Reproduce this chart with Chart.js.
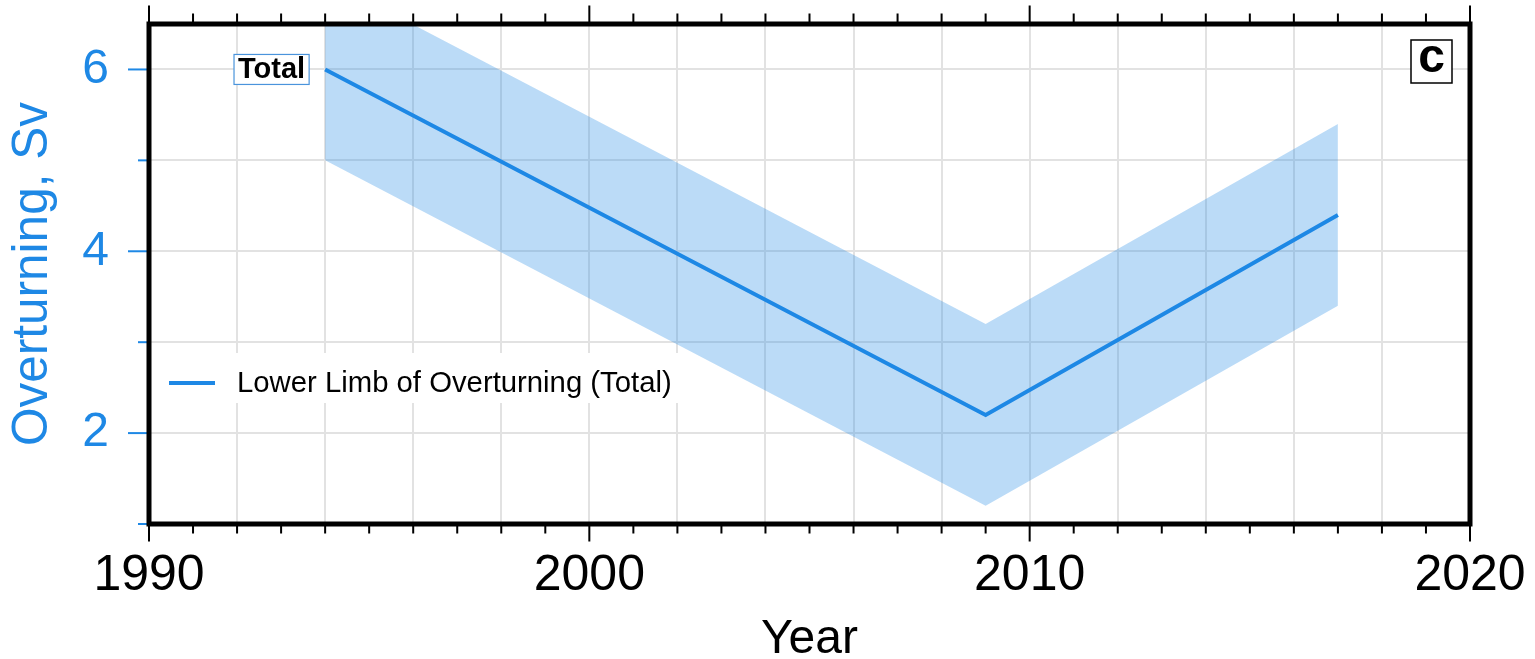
<!DOCTYPE html>
<html><head><meta charset="utf-8">
<script src="https://cdn.jsdelivr.net/npm/chart.js@4/dist/chart.umd.min.js"></script>
<style>html,body{margin:0;padding:0;background:#fff;overflow:hidden}</style>
</head><body>
<canvas id="c" width="1535" height="659" style="display:block;width:1535px;height:659px"></canvas>
<script>
// ---- data ----
const years = [1994, 2009, 2017];
const totalSv = [6.0, 2.2, 4.4];
const upperSv = [7.0, 3.2, 5.4];
const lowerSv = [5.0, 1.2, 3.4];
const xLabelYears = [1990, 2000, 2010, 2020];
const yLabelValues = [2, 4, 6];
const seriesName = 'Lower Limb of Overturning (Total)';
const annotationText = 'Total';
const panelLetter = 'c';
const xTitle = 'Year';
const yTitle = 'Overturning, Sv';

const BLUE = '#1e88e5';
const FONT = '"Liberation Sans", Arial, Helvetica, sans-serif';
const GRID = '#e2e2e2';

const pts = arr => years.map((y, i) => ({x: y, y: arr[i]}));

const decor = {
  id: 'decor',
  afterDatasetsDraw(chart) {
    const ctx = chart.ctx, a = chart.chartArea;
    const xs = chart.scales.x, ys = chart.scales.y;
    ctx.save();
    // legend box
    ctx.fillStyle = '#fff';
    ctx.fillRect(a.left, a.top + 329, 692 - a.left, 50);
    ctx.strokeStyle = BLUE; ctx.lineWidth = 4;
    ctx.beginPath(); ctx.moveTo(a.left + 20, a.top + 359); ctx.lineTo(a.left + 66, a.top + 359); ctx.stroke();
    ctx.fillStyle = '#000';
    ctx.font = '29.3px ' + FONT; ctx.textBaseline = 'middle'; ctx.textAlign = 'left';
    ctx.fillText(chart.data.datasets[2].label, a.left + 88, a.top + 360);
    // "Total" annotation
    const px = xs.getPixelForValue(years[0]), py = ys.getPixelForValue(totalSv[0]);
    ctx.font = 'bold 29px ' + FONT;
    const tw = ctx.measureText(annotationText).width;
    const bw = tw + 8, bh = 30, bx = px - 16 - bw, by = py - bh / 2;
    ctx.fillStyle = '#fff'; ctx.fillRect(bx, by, bw, bh);
    ctx.strokeStyle = '#4a94dc'; ctx.lineWidth = 1.2; ctx.strokeRect(bx, by, bw, bh);
    ctx.fillStyle = '#000'; ctx.textAlign = 'center';
    ctx.fillText(annotationText, bx + bw / 2, py + 1);
    // panel letter
    const cw = 41, ch = 43, cx = a.right - 18 - cw, cy = a.top + 16;
    ctx.fillStyle = '#fff'; ctx.fillRect(cx, cy, cw, ch);
    ctx.strokeStyle = '#000'; ctx.lineWidth = 1.5; ctx.strokeRect(cx, cy, cw, ch);
    ctx.fillStyle = '#000'; ctx.font = 'bold 48px ' + FONT;
    ctx.fillText(panelLetter, cx + cw / 2, cy + ch / 2 - 3);
    ctx.restore();
  },
  afterDraw(chart) {
    const ctx = chart.ctx, a = chart.chartArea;
    const xs = chart.scales.x, ys = chart.scales.y;
    ctx.save();
    // y ticks (blue)
    ctx.strokeStyle = BLUE; ctx.lineWidth = 2;
    for (let v = 1; v <= 6; v++) {
      const p = ys.getPixelForValue(v);
      const len = yLabelValues.includes(v) ? 21 : 11;
      ctx.beginPath(); ctx.moveTo(a.left - len, p); ctx.lineTo(a.left, p); ctx.stroke();
    }
    // x ticks top & bottom
    ctx.strokeStyle = '#000'; ctx.lineWidth = 2;
    for (let yr = xs.min; yr <= xs.max; yr++) {
      const p = xs.getPixelForValue(yr);
      const major = xLabelYears.includes(yr);
      ctx.beginPath();
      ctx.moveTo(p, a.top); ctx.lineTo(p, a.top - 2.5 - (major ? 16 : 8));
      ctx.moveTo(p, a.bottom); ctx.lineTo(p, a.bottom + 2.5 + (major ? 15 : 7));
      ctx.stroke();
    }
    // frame
    ctx.strokeStyle = '#000'; ctx.lineWidth = 5;
    ctx.strokeRect(a.left, a.top, a.right - a.left, a.bottom - a.top);
    ctx.restore();
  }
};

new Chart(document.getElementById('c'), {
  type: 'line',
  data: {
    datasets: [
      {label: 'upper', data: pts(upperSv), borderWidth: 0, pointRadius: 0,
       backgroundColor: 'rgba(30,136,229,0.3)', fill: '+1', tension: 0},
      {label: 'lower', data: pts(lowerSv), borderWidth: 0, pointRadius: 0,
       backgroundColor: 'rgba(30,136,229,0.3)', fill: false, tension: 0},
      {label: seriesName, data: pts(totalSv), borderColor: BLUE, borderWidth: 4,
       pointRadius: 0, fill: false, tension: 0}
    ]
  },
  options: {
    responsive: false, animation: false, devicePixelRatio: 1,
    layout: {padding: {top: 24, right: 65, left: 0, bottom: 0}},
    plugins: {legend: {display: false}, tooltip: {enabled: false}},
    scales: {
      x: {
        type: 'linear', min: 1990, max: 2020,
        afterFit: s => { s.height = 135; s.paddingLeft = 0; s.paddingRight = 0; },
        border: {display: false},
        grid: {drawTicks: false, lineWidth: 2,
               color: c => (c.tick && c.tick.value % 2 === 0) ? GRID : 'rgba(0,0,0,0)'},
        ticks: {stepSize: 1, autoSkip: false, maxRotation: 0, padding: 22,
                color: '#000', font: {family: FONT, size: 50},
                callback: v => xLabelYears.includes(v) ? String(v) : ''},
        title: {display: true, text: xTitle, color: '#000',
                font: {family: FONT, size: 48, lineHeight: 0.8}, padding: 0}
      },
      y: {
        type: 'linear', min: 1, max: 6.5,
        afterFit: s => { s.width = 149; s.paddingTop = 0; s.paddingBottom = 0; },
        border: {display: false},
        grid: {drawTicks: false, lineWidth: 2, color: GRID},
        ticks: {stepSize: 1, includeBounds: false, padding: 40, color: BLUE,
                font: {family: FONT, size: 48},
                callback: v => yLabelValues.includes(v) ? String(v) : ''},
        title: {display: true, text: yTitle, color: BLUE,
                font: {family: FONT, size: 49.5, lineHeight: 1.0}, padding: {top: 9, bottom: 0}}
      }
    }
  },
  plugins: [decor]
});
</script>
</body></html>
